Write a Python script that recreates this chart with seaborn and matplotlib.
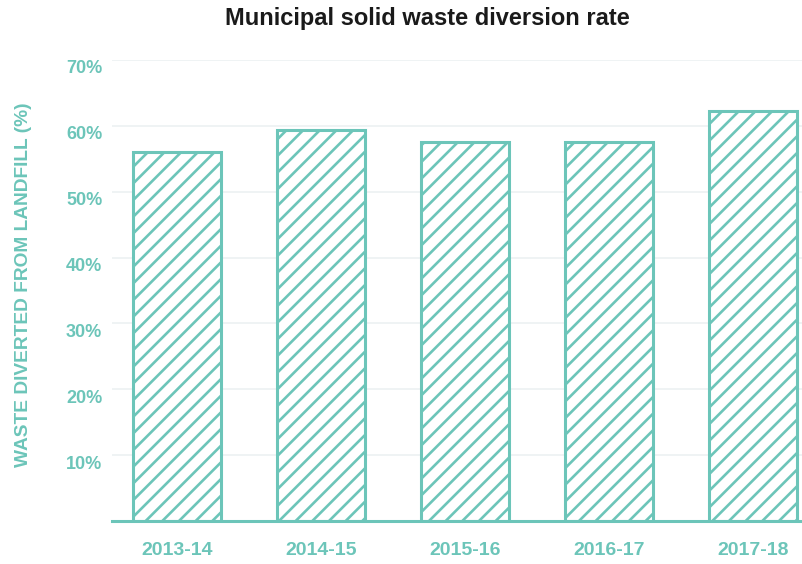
import matplotlib
matplotlib.use("Agg")
import matplotlib.pyplot as plt
import matplotlib.transforms as mtransforms
import seaborn as sns
import pandas as pd
from matplotlib.ticker import FixedLocator

years = ["2013-14", "2014-15", "2015-16", "2016-17", "2017-18"]
rates = [56.0, 59.3, 57.6, 57.6, 62.2]
ytick_vals = [10, 20, 30, 40, 50, 60, 70]
ytick_labels = ["10%", "20%", "30%", "40%", "50%", "60%", "70%"]

teal = "#6cc5b9"
grid_c = "#eef2f3"

sns.set_theme(style="white")
plt.rcParams["font.family"] = ["Liberation Sans", "DejaVu Sans"]
plt.rcParams["hatch.linewidth"] = 1.9
plt.rcParams["hatch.color"] = teal

df = pd.DataFrame({"year": years, "rate": rates})

fig = plt.figure(figsize=(8.03, 5.64), dpi=100)
ax = fig.add_axes([112 / 803, 1 - 521 / 564, 1 - 112 / 803, (521 - 60) / 564])

sns.barplot(data=df, x="year", y="rate", ax=ax, color="white",
            edgecolor=teal, linewidth=2.2, width=0.611, hatch="//",
            saturation=1, zorder=3)
for p in ax.patches:
    p.set_hatch("//")
    p.set_edgecolor(teal)
    p.set_facecolor("white")

ax.set_ylim(0, 70)
ax.set_xlim(-0.451, 4.347)
ax.yaxis.set_major_locator(FixedLocator(ytick_vals))
ax.set_yticklabels(ytick_labels)
ax.grid(axis="y", color=grid_c, linewidth=1.3, zorder=0)
ax.set_axisbelow(True)

for s in ["top", "right", "left"]:
    ax.spines[s].set_visible(False)
ax.spines["bottom"].set_color(teal)
ax.spines["bottom"].set_linewidth(2.2)
ax.spines["bottom"].set_zorder(5)

ax.tick_params(axis="both", length=0, labelcolor=teal)
ax.tick_params(axis="y", pad=7, labelsize=13)
ax.tick_params(axis="x", pad=14, labelsize=14)
for lbl in ax.get_xticklabels() + ax.get_yticklabels():
    lbl.set_fontweight("bold")
offset = mtransforms.ScaledTranslation(0, -7 / 100, fig.dpi_scale_trans)
for lbl in ax.get_yticklabels():
    lbl.set_transform(lbl.get_transform() + offset)
xoff = mtransforms.ScaledTranslation(0, -2 / 100, fig.dpi_scale_trans)
for lbl in ax.get_xticklabels():
    lbl.set_transform(lbl.get_transform() + xoff)

ax.set_xlabel("")
ax.set_ylabel("WASTE DIVERTED FROM LANDFILL (%)", color=teal, fontsize=13.8,
              fontweight="bold")
ax.yaxis.set_label_coords(-(112 - 24) / 691, 0.512)
ax.yaxis.label.set_va("center")

fig.suptitle("Municipal solid waste diversion rate", x=427 / 803, y=1 - 19 / 564,
             va="center", fontsize=17, fontweight="bold", color="#1a1a1a")

fig.savefig("out.png", dpi=100)
